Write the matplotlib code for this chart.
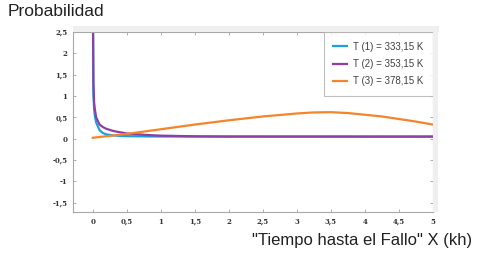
import matplotlib
matplotlib.use("Agg")
import matplotlib.pyplot as plt
from matplotlib.patches import Rectangle

# ---- data ----
x_low = [0.004, 0.01, 0.02, 0.03, 0.05, 0.1, 0.15, 0.2, 0.3, 0.4, 0.5, 0.8, 1.0, 1.5, 2.0, 3.0, 4.0, 5.0]
y_t1 = [2.7, 1.05, 0.70, 0.55, 0.38, 0.20, 0.13, 0.10, 0.075, 0.065, 0.058, 0.052, 0.05, 0.048, 0.047, 0.046, 0.045, 0.045]
y_t2 = [2.7, 1.30, 0.85, 0.70, 0.50, 0.33, 0.27, 0.23, 0.18, 0.15, 0.12, 0.085, 0.07, 0.055, 0.05, 0.05, 0.05, 0.05]
x_t3 = [0.0, 0.5, 1.0, 1.5, 2.0, 2.5, 3.0, 3.25, 3.5, 3.75, 4.0, 4.25, 4.5, 4.75, 5.0]
y_t3 = [0.02, 0.11, 0.22, 0.33, 0.43, 0.52, 0.59, 0.615, 0.62, 0.60, 0.56, 0.52, 0.46, 0.40, 0.33]
labels = ["T (1) = 333,15 K", "T (2) = 353,15 K", "T (3) = 378,15 K"]
colors = ["#1ba1e2", "#8e3fa3", "#f5842b"]
xticks = [0, 0.5, 1, 1.5, 2, 2.5, 3, 3.5, 4, 4.5, 5]
yticks = [-1.5, -1, -0.5, 0, 0.5, 1, 1.5, 2, 2.5]

def fmt(v):
    s = ("%g" % v).replace(".", ",")
    return s

fig = plt.figure(figsize=(4.82, 2.59), dpi=100)
ax = fig.add_axes([73/482, 1-212/259, (433-73)/482, (212-32)/259])

# light gray 3D-like band around top/right
fig.patches.append(Rectangle((73/482, 1-32/259), (439-73)/482, 6/259, transform=fig.transFigure,
                             facecolor="#efefef", edgecolor="none", zorder=0))
fig.patches.append(Rectangle((433/482, 1-212/259), 5/482, (212-26)/259, transform=fig.transFigure,
                             facecolor="#efefef", edgecolor="none", zorder=0))

ax.plot(x_low, y_t1, color=colors[0], lw=1.6, label=labels[0])
ax.plot(x_low, y_t2, color=colors[1], lw=1.6, label=labels[1])
ax.plot(x_t3, y_t3, color=colors[2], lw=1.6, label=labels[2])

ax.set_xlim(-0.29, 5)
ax.set_ylim(-1.72, 2.5)
ax.set_xticks(xticks)
ax.set_yticks(yticks)
ax.set_xticklabels([fmt(v) for v in xticks], fontfamily="DejaVu Serif", fontweight="bold", fontsize=5)
ax.set_yticklabels([fmt(v) for v in yticks], fontfamily="DejaVu Serif", fontweight="bold", fontsize=5)
ax.tick_params(direction="in", length=2.5, width=0.6, color="#a0a0a0", top=True, right=True,
               pad=4, labelcolor="#333333")
for sp in ax.spines.values():
    sp.set_color("#a8a8a8")
    sp.set_linewidth(0.8)

leg = ax.legend(loc="upper right", frameon=True, fancybox=False,
                handlelength=1.4, handletextpad=0.6, borderpad=1.0, labelspacing=0.75,
                borderaxespad=0.0, prop={"family": "Liberation Sans", "size": 7})
leg.get_frame().set_edgecolor("#b0b0b0")
leg.get_frame().set_linewidth(0.8)
for t in leg.get_texts():
    t.set_color("#404040")

fig.text(8/482, 1-12/259, "Probabilidad", fontfamily="Liberation Sans", fontsize=12.5,
         ha="left", va="center", color="#222222")
fig.text(472/482, 1-241/259, "\"Tiempo hasta el Fallo\" X (kh)", fontfamily="Liberation Sans",
         fontsize=12, ha="right", va="center", color="#222222")

fig.savefig("out.png", dpi=100)
